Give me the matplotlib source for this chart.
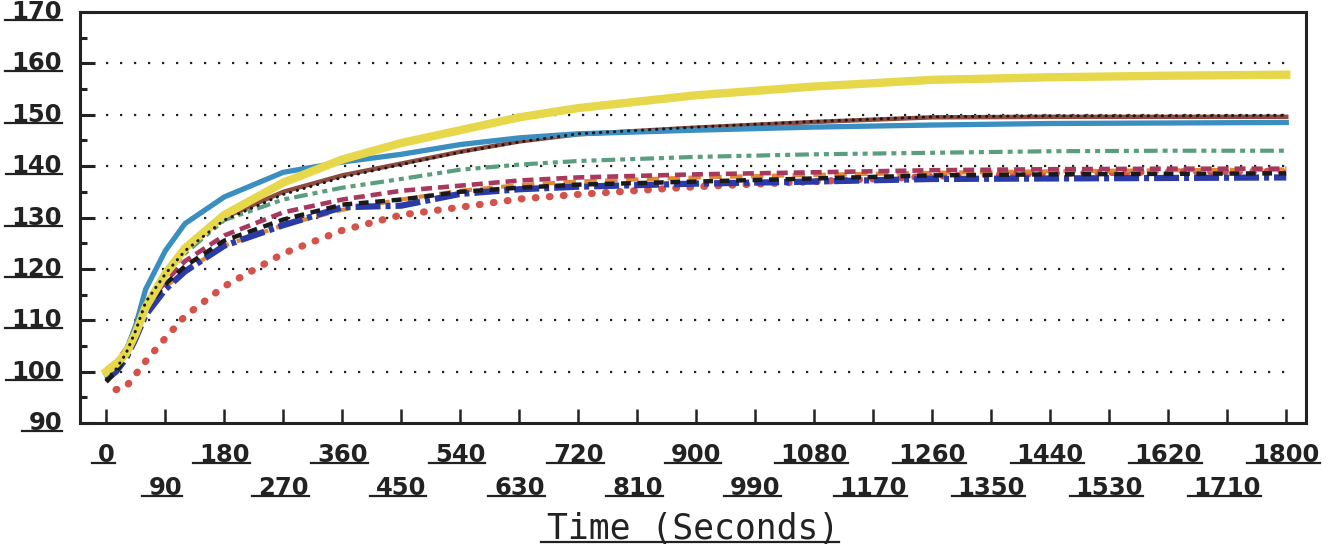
import numpy as np
import matplotlib
matplotlib.use("Agg")
import matplotlib.pyplot as plt
from matplotlib.lines import Line2D

t = [0, 15, 30, 45, 60, 90, 120, 180, 270, 360, 450, 540, 630, 720, 900, 1080, 1260, 1440, 1620, 1800]

yellow = [100, 101.5, 103.5, 107.5, 112.5, 119, 124, 130.5, 136.8, 141.3, 144.5, 147, 149.5, 151.3, 153.8, 155.5, 156.8, 157.3, 157.6, 157.8]
steel = [99.5, 101.5, 104, 109, 116, 123.5, 128.8, 134, 138.8, 140.8, 142.3, 144.2, 145.5, 146.3, 147, 147.6, 148, 148.3, 148.4, 148.5]
brown = [100, 101.5, 103.5, 107.5, 113, 119, 124, 130, 135, 138.2, 140.5, 142.8, 144.8, 146.2, 147.5, 148.6, 149.5, 149.6, 149.6, 149.6]
black_dot = [98.5, 100.5, 103.5, 108, 113.5, 119, 123.5, 129.5, 134.5, 137.8, 140.3, 142.7, 144.7, 146.3, 147.6, 148.7, 149.6, 149.8, 149.8, 149.9]
green = [99.5, 101, 103.5, 108, 113, 118.5, 123, 129.5, 133.5, 135.8, 137.5, 139.3, 140.3, 141, 141.8, 142.3, 142.6, 142.9, 143, 143]
maroon = [99.5, 101, 103.5, 107.5, 112.5, 117.5, 121.5, 126.5, 131, 133.5, 135.2, 136.2, 137.2, 137.8, 138.4, 138.8, 139.2, 139.4, 139.5, 139.5]
navy = [98.5, 100, 102.5, 106.5, 111, 116, 119.5, 124.5, 128.5, 132, 132.3, 134.6, 135.5, 136, 136.6, 137, 137.5, 137.6, 137.7, 137.8]
black_dash = [98, 100, 103, 107.5, 112, 117, 120.5, 125.5, 129.6, 132.5, 133.5, 135, 135.8, 136.4, 137, 137.6, 138.2, 138.4, 138.5, 138.6]
orange = [100.5, 102, 104.5, 108, 112, 116.5, 119.5, 124.5, 128.5, 131.5, 133.5, 135.2, 136.3, 137, 137.8, 138.3, 138.7, 139, 139.2, 139.3]
red = [np.nan, 96.5, 97, 99.5, 102, 106.5, 110.8, 116.6, 123, 127.5, 130.5, 132, 133.6, 134.5, 136, 137, 138, 138.6, 138.9, 139]

x_ticks = list(range(0, 1801, 90))
y_labels = [90, 100, 110, 120, 130, 140, 150, 160, 170]
grid_levels = [100, 110, 120, 130, 140, 150, 160]

fig = plt.figure(figsize=(13.36, 5.54), dpi=100)
ax = fig.add_axes([0.0599, 0.2365, 0.9176, 0.7418])
ax.set_xlim(-40, 1830)
ax.set_ylim(90, 170)

# dotted grid lines
for g in grid_levels:
    ax.plot([0, 1800], [g, g], color='#222222', lw=1.6, linestyle=(0, (1, 5.3)), zorder=1)

# curves
ax.plot(t, red, color='#d5524a', lw=5.2, linestyle=(0, (0.1, 1.85)), dash_capstyle='round', zorder=2)
ax.plot(t, orange, color='#e08a34', lw=3, linestyle=(0, (3, 2)), zorder=3)
ax.plot(t, navy, color='#2a3aa8', lw=4.5, linestyle=(0, (4, 0.8, 0.8, 0.8)), zorder=4)
ax.plot(t, black_dash, color='#1a1a1a', lw=3.2, linestyle=(0, (2.2, 1.5)), zorder=5)
ax.plot(t, maroon, color='#a8385e', lw=3.3, linestyle=(0, (2.4, 1.3)), zorder=4)
ax.plot(t, green, color='#5a9e7e', lw=3, linestyle=(0, (3.3, 1.2, 1.2, 1.2, 1.2, 1.2)), zorder=4)
ax.plot(t, brown, color='#8e4a3e', lw=3.2, zorder=5)
ax.plot(t, steel, color='#3a8ec0', lw=3.8, zorder=6)
ax.plot(t, black_dot, color='#1a1a1a', lw=2.2, linestyle=(0, (0.1, 2.2)), dash_capstyle='round', zorder=7)
ax.plot(t, yellow, color='#e6d84a', lw=6, zorder=6)

# spines and ticks
for s in ax.spines.values():
    s.set_linewidth(2.2)
    s.set_color('#222222')
ax.set_xticks(x_ticks)
ax.set_yticks(y_labels)
ax.set_yticks(np.arange(95, 170, 10), minor=True)
ax.tick_params(axis='x', direction='in', length=10, width=1.8, color='#222222', labelbottom=False)
ax.tick_params(axis='y', which='major', direction='in', length=11, width=2.2, color='#222222', labelleft=False)
ax.tick_params(axis='y', which='minor', direction='in', length=5, width=2.2, color='#222222')
ax.tick_params(top=False, right=False)

labels = []
lab_font = dict(family='DejaVu Sans', weight='bold', size=17.5, color='#222222')
for i, xt in enumerate(x_ticks):
    off = -23 if i % 2 == 0 else -47
    labels.append(ax.annotate(str(xt), xy=(xt, 0), xycoords=('data', 'axes fraction'),
                              xytext=(0, off), textcoords='offset points',
                              ha='center', va='center', **lab_font))
for yl in y_labels:
    labels.append(ax.annotate(str(yl), xy=(0, yl), xycoords=('axes fraction', 'data'),
                              xytext=(-13, 0), textcoords='offset points',
                              ha='right', va='center', **lab_font))
title = ax.annotate('Time (Seconds)', xy=(0.5, 0), xycoords='axes fraction',
                    xytext=(0, -76), textcoords='offset points', ha='center', va='center',
                    family='DejaVu Sans Mono', size=25, color='#222222')

# underline every label like the original plot
fig.canvas.draw()
r = fig.canvas.get_renderer()
for lab in labels + [title]:
    bb = lab.get_window_extent(r)
    y = bb.y0 + 4
    fig.add_artist(Line2D([bb.x0 - 6, bb.x1], [y, y], color='#222222', lw=1.6, transform=None))

fig.savefig('out.png', dpi=100)
